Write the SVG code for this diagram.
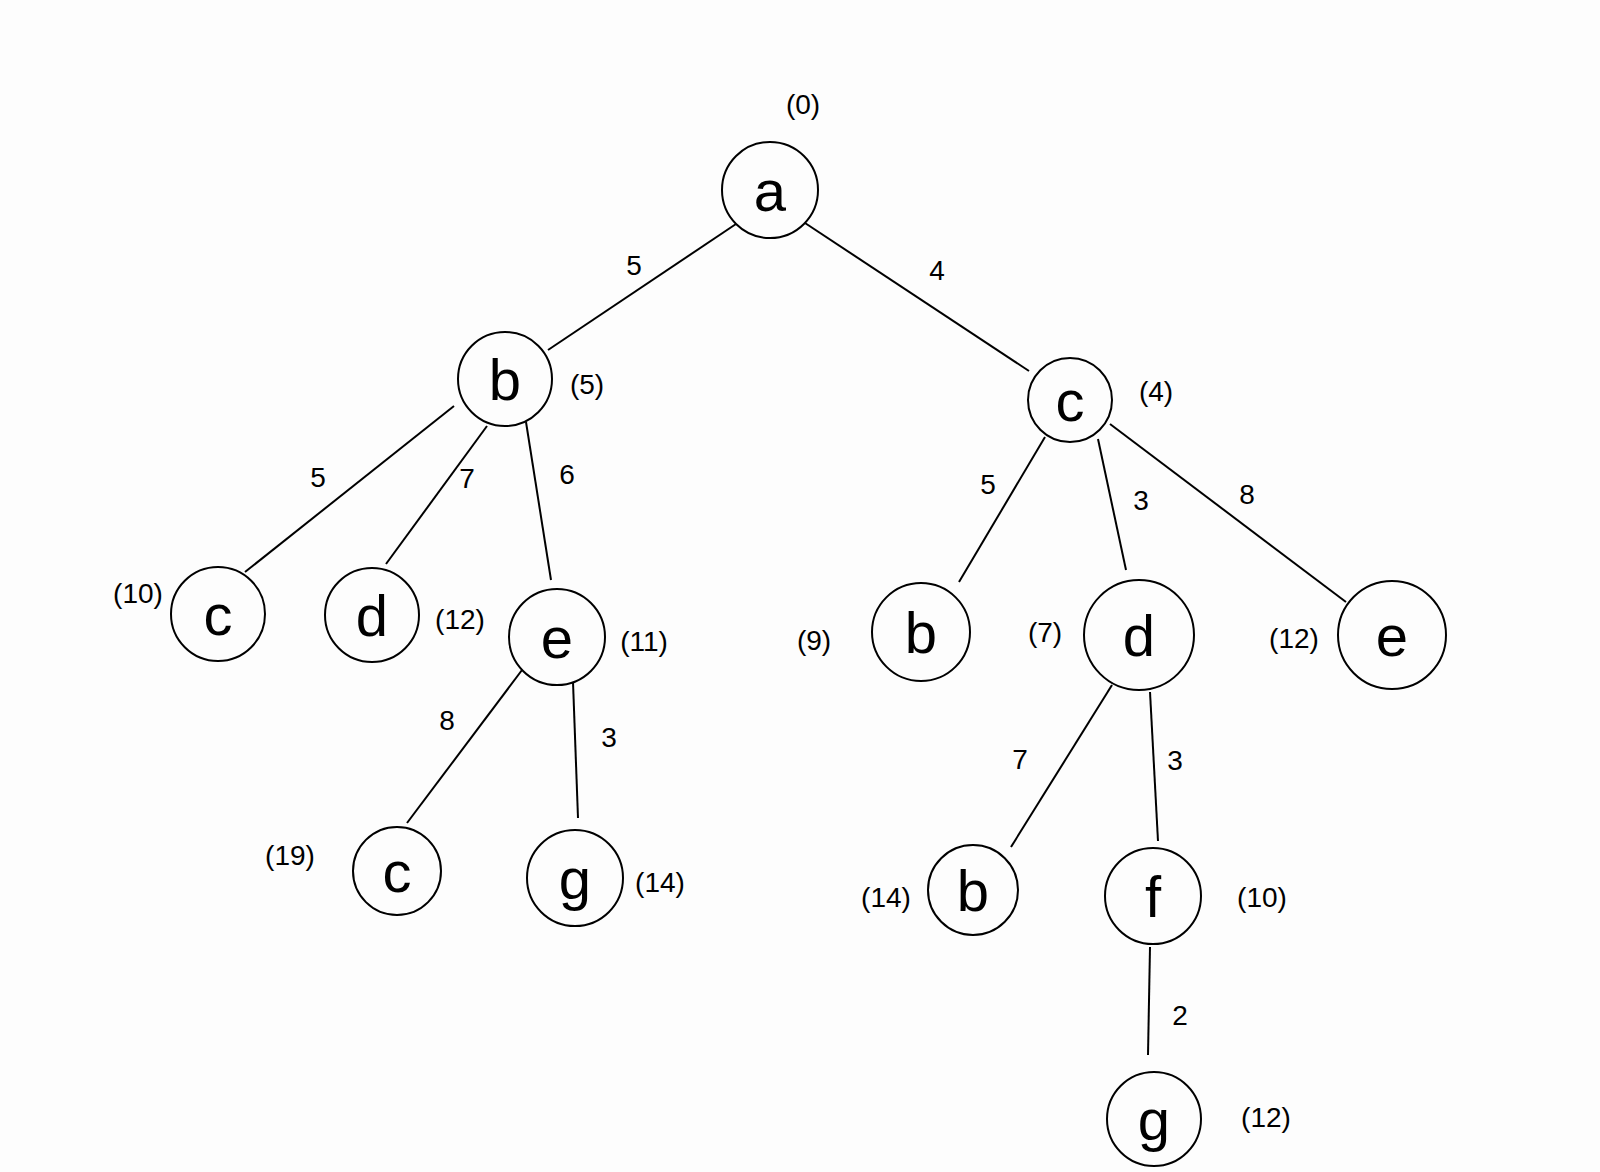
<svg xmlns="http://www.w3.org/2000/svg" width="1600" height="1172" viewBox="0 0 1600 1172">
<style>
.n{fill:none;stroke:#000;stroke-width:2}
.l{font-family:"Liberation Sans",Arial,sans-serif;font-size:58px;fill:#000;text-anchor:middle;dominant-baseline:central}
.t{font-family:"Liberation Sans",Arial,sans-serif;font-size:28px;fill:#000;text-anchor:middle;dominant-baseline:central}
#edges line{stroke:#000;stroke-width:2}
</style>
<rect width="1600" height="1172" fill="#fdfdfd"/>
<g id="edges">
<line x1="736" y1="224" x2="548" y2="350"/>
<line x1="805" y1="223" x2="1029" y2="371"/>
<line x1="454" y1="406" x2="245" y2="572"/>
<line x1="487" y1="426" x2="386" y2="564"/>
<line x1="526" y1="422" x2="551" y2="580"/>
<line x1="522" y1="670" x2="407" y2="823"/>
<line x1="573" y1="682" x2="578" y2="818"/>
<line x1="1045" y1="437" x2="959" y2="582"/>
<line x1="1098" y1="439" x2="1126" y2="570"/>
<line x1="1110" y1="424" x2="1346" y2="602"/>
<line x1="1112" y1="685" x2="1011" y2="847"/>
<line x1="1150" y1="692" x2="1158" y2="841"/>
<line x1="1150" y1="947" x2="1148" y2="1055"/>
<text class="t" x="634" y="265">5</text>
<text class="t" x="937" y="270">4</text>
<text class="t" x="318" y="477">5</text>
<text class="t" x="467" y="478">7</text>
<text class="t" x="567" y="474">6</text>
<text class="t" x="988" y="484">5</text>
<text class="t" x="1141" y="500">3</text>
<text class="t" x="1247" y="494">8</text>
<text class="t" x="447" y="720">8</text>
<text class="t" x="609" y="737">3</text>
<text class="t" x="1020" y="759">7</text>
<text class="t" x="1175" y="760">3</text>
<text class="t" x="1180" y="1015">2</text>
</g>
<g id="n-a"><circle class="n" cx="770" cy="190" r="48"/><text class="l" x="770" y="190">a</text><text class="t" x="803" y="104">(0)</text></g>
<g id="n-b"><circle class="n" cx="505" cy="379" r="47"/><text class="l" x="505" y="379">b</text><text class="t" x="587" y="384">(5)</text></g>
<g id="n-c"><circle class="n" cx="1070" cy="400" r="42"/><text class="l" x="1070" y="400">c</text><text class="t" x="1156" y="391">(4)</text></g>
<g id="n-c10"><circle class="n" cx="218" cy="614" r="47"/><text class="l" x="218" y="614">c</text><text class="t" x="138" y="593">(10)</text></g>
<g id="n-d12"><circle class="n" cx="372" cy="615" r="47"/><text class="l" x="372" y="615">d</text><text class="t" x="460" y="619">(12)</text></g>
<g id="n-e11"><circle class="n" cx="557" cy="637" r="48"/><text class="l" x="557" y="637">e</text><text class="t" x="644" y="641">(11)</text></g>
<g id="n-c19"><circle class="n" cx="397" cy="871" r="44"/><text class="l" x="397" y="871">c</text><text class="t" x="290" y="855">(19)</text></g>
<g id="n-g14"><circle class="n" cx="575" cy="878" r="48"/><text class="l" x="575" y="878">g</text><text class="t" x="660" y="882">(14)</text></g>
<g id="n-b9"><circle class="n" cx="921" cy="632" r="49"/><text class="l" x="921" y="632">b</text><text class="t" x="814" y="640">(9)</text></g>
<g id="n-d7"><circle class="n" cx="1139" cy="635" r="55"/><text class="l" x="1139" y="635">d</text><text class="t" x="1045" y="632">(7)</text></g>
<g id="n-e12"><circle class="n" cx="1392" cy="635" r="54"/><text class="l" x="1392" y="635">e</text><text class="t" x="1294" y="638">(12)</text></g>
<g id="n-b14"><circle class="n" cx="973" cy="890" r="45"/><text class="l" x="973" y="890">b</text><text class="t" x="886" y="897">(14)</text></g>
<g id="n-f10"><circle class="n" cx="1153" cy="896" r="48"/><text class="l" x="1153" y="896">f</text><text class="t" x="1262" y="897">(10)</text></g>
<g id="n-g12"><circle class="n" cx="1154" cy="1119" r="47"/><text class="l" x="1154" y="1119">g</text><text class="t" x="1266" y="1117">(12)</text></g>
</svg>
